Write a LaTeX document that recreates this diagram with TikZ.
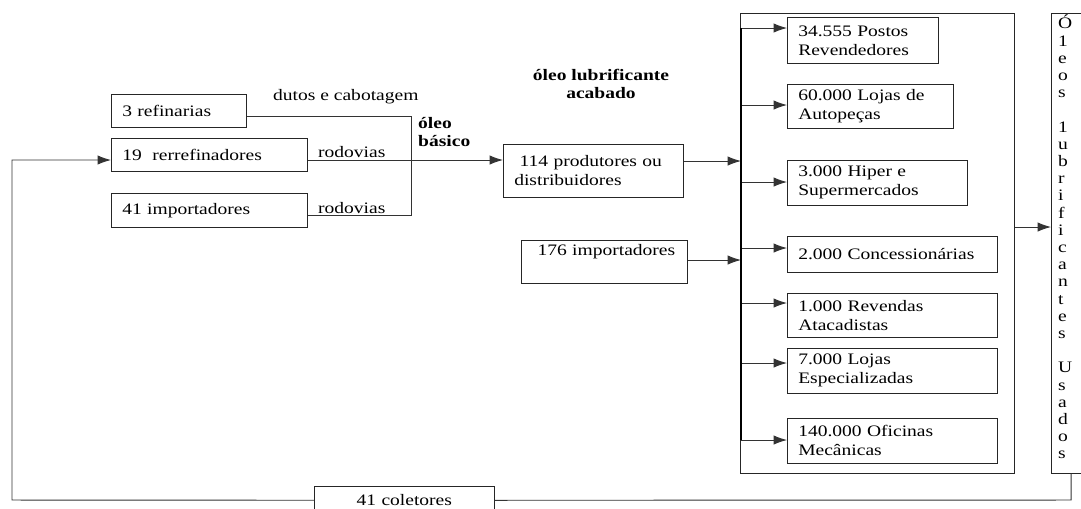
\documentclass[tikz,border=0pt]{standalone}
\usepackage{fontspec}
\setmainfont{Liberation Serif}[FakeStretch=1.22]
\usepackage{tikz}
\usetikzlibrary{arrows.meta}

\begin{document}
\begin{tikzpicture}[transform shape,scale=0.75,x=1pt,y=-1pt,
		caixa/.style 2 args={rectangle,draw=black!85,line width=0.6pt,anchor=north west,
			align=left,inner xsep=11pt,inner ysep=0pt,text width=#1,minimum height=#2,
			font=\fontsize{16}{19}\selectfont},
		rotulo/.style={font=\fontsize{16}{18}\selectfont,anchor=west,inner sep=0pt},
		negrito/.style={font=\fontsize{16}{18}\selectfont\bfseries,inner sep=0pt},
		liga/.style={line width=0.7pt,black!80},
		seta/.style={liga,-{Latex[length=10pt,width=7pt]}},
		barra/.style={line width=2pt,black}]
		\useasboundingbox (0,0) rectangle (1081,508);
		\clip (0,0) rectangle (1081,508);
%		\draw[help lines] (0,0) grid (1081,508);
		\path (411,116) coordinate (jtop);
		\path (411,160) coordinate (jmid);
		\path (411,215) coordinate (jbot);
		\path (741,161) coordinate (bus-prod);
		\path (741,260) coordinate (bus-imp);
		\path (1051,227) coordinate (dest-in);
		\path (1071,500) coordinate (volta-d);
		\path (12,500) coordinate (volta-e);

		% origem do oleo basico
		\path (111,94) node(refin) [caixa={113pt}{33pt}] {3 refinarias};
		\path (111,138) node(rerref) [caixa={174pt}{33pt}] {19\ \ rerrefinadores};
		\path (111,193) node(imp41) [caixa={174pt}{34pt}] {41 importadores};
		\path (273,97) node(dutos) [rotulo] {dutos e cabotagem};
		\path (318,152) node(rod1) [rotulo] {rodovias};
		\path (318,208) node(rod2) [rotulo] {rodovias};
		\path (418,132) node(basico) [negrito,anchor=west,align=left] {óleo\\básico};
		\path (601,84) node(acabado) [negrito,align=center] {óleo lubrificante\\acabado};

		\path (503,144) node(prod) [caixa={158pt}{53pt}] {\ 114 produtores ou\\distribuidores};
		\path (521,240) node(imp176) [caixa={144pt}{43pt}] {\ 176 importadores\\\strut};

		% varejo
		\path (740,13) node(varejo) [draw=black!85,line width=0.6pt,anchor=north west,
			minimum width=274pt,minimum height=460pt] {};
		\path (787,17) node(postos) [caixa={129pt}{46pt}] {34.555 Postos\\Revendedores};
		\path (787,84) node(autop) [caixa={144pt}{44pt}] {60.000 Lojas de\\Autopeças};
		\path (787,160) node(hiper) [caixa={158pt}{45pt}] {3.000 Hiper e\\Supermercados};
		\path (787,236) node(conces) [caixa={188pt}{36pt}] {2.000~Concessionárias};
		\path (787,293) node(atac) [caixa={188pt}{44pt}] {1.000 Revendas\\Atacadistas};
		\path (787,348) node(espec) [caixa={188pt}{45pt}] {7.000 Lojas\\Especializadas};
		\path (787,418) node(ofic) [caixa={188pt}{45pt}] {140.000 Oficinas\\Mecânicas};

		\path (1051,13) node(destino) [draw=black!85,line width=0.6pt,anchor=north west,
			minimum width=60pt,minimum height=460pt] {};
		\path (1058,15) node(destino-txt) [anchor=north west,inner sep=0pt,align=left,
			font=\fontsize{16}{17.2}\selectfont] {Ó\\1\\e\\o\\s\\[17.2pt]1\\u\\b\\r\\i\\f\\i\\c\\a\\n\\t\\e\\s\\[17.2pt]U\\s\\a\\d\\o\\s};
		\path (314,486) node(coletores) [caixa={158pt}{28pt},align=center] {41 coletores};

		% ligacoes
		\draw[liga] (jtop -| refin.east) -- (jtop) -- (jbot) -- (jbot -| imp41.east);
		\draw[seta] (jmid -| rerref.east) -- (jmid -| prod.west);
		\draw[seta] (bus-prod -| prod.east) -- (bus-prod);
		\draw[seta] (bus-imp -| imp176.east) -- (bus-imp);
		\foreach \n/\y in {postos/28,autop/105,hiper/182,conces/248,atac/303,espec/363,ofic/440}{
			\path (741,\y) coordinate (bus-\n);
			\draw[seta] (bus-\n) -- (bus-\n -| \n.west);
		}
		\draw[barra] (bus-postos) -- (bus-ofic);
		\draw[seta] (dest-in -| varejo.east) -- (dest-in -| destino.west);
		\draw[liga] (volta-d |- destino.south) -- (volta-d) -- (coletores);
		\draw[seta] (coletores) -- (volta-e) -- (volta-e |- jmid) -- (rerref.west |- jmid);
	\end{tikzpicture}
\end{document}
